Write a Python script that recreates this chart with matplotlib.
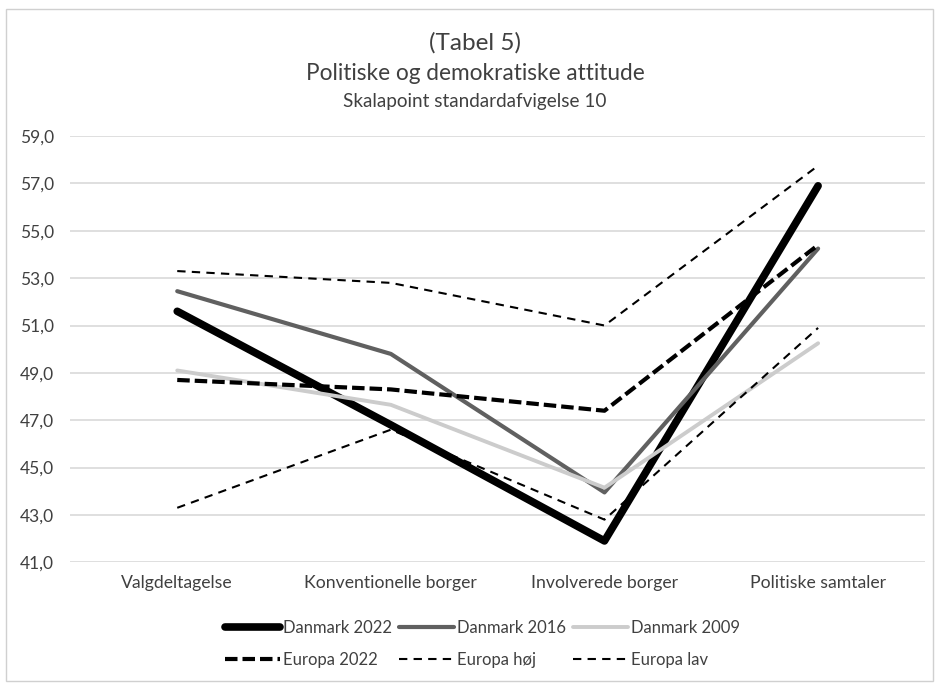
import matplotlib.pyplot as plt
from matplotlib.patches import Rectangle
from matplotlib.ticker import FuncFormatter

plt.rcParams['font.family'] = ['Lato', 'DejaVu Sans']

categories = ['Valgdeltagelse', 'Konventionelle borger', 'Involverede borger', 'Politiske samtaler']
danmark_2022 = [51.6, 46.8, 41.9, 56.9]
danmark_2016 = [52.45, 49.8, 43.95, 54.25]
danmark_2009 = [49.1, 47.65, 44.15, 50.25]
europa_2022 = [48.7, 48.3, 47.4, 54.4]
europa_hoej = [53.3, 52.8, 51.0, 57.75]
europa_lav = [43.3, 46.6, 42.8, 50.9]
y_ticks = [41, 43, 45, 47, 49, 51, 53, 55, 57, 59]

fig = plt.figure(figsize=(9.39, 6.84), dpi=100)
fig.patches.append(Rectangle((0.006, 0.005), 0.988, 0.982, transform=fig.transFigure,
                             fill=False, edgecolor='#d0d0d0', linewidth=1))

ax = fig.add_axes([0.075, 0.178, 0.910, 0.623])
x = range(len(categories))

h1, = ax.plot(x, danmark_2022, color='black', lw=5.5, solid_capstyle='round', label='Danmark 2022')
h2, = ax.plot(x, danmark_2016, color='#606060', lw=3, solid_capstyle='round', label='Danmark 2016')
h3, = ax.plot(x, danmark_2009, color='#cccccc', lw=2.8, solid_capstyle='round', label='Danmark 2009')
h4, = ax.plot(x, europa_2022, color='black', lw=3, ls=(0, (3, 1.2)), label='Europa 2022')
h5, = ax.plot(x, europa_hoej, color='black', lw=1.5, ls=(0, (4, 3)), label='Europa høj')
h6, = ax.plot(x, europa_lav, color='black', lw=1.5, ls=(0, (4, 3)), label='Europa lav')

ax.set_xlim(-0.5, 3.5)
ax.set_ylim(41, 59)
ax.set_yticks(y_ticks)
ax.yaxis.set_major_formatter(FuncFormatter(lambda v, p: f'{v:.1f}'.replace('.', ',')))
ax.set_xticks(list(x))
ax.set_xticklabels(categories)
ax.tick_params(axis='x', length=0, labelsize=12.7, colors='#404040', pad=9)
ax.tick_params(axis='y', length=0, labelsize=12.5, colors='#404040', pad=12)
ax.grid(axis='y', color='#d9d9d9', lw=1.2)
ax.set_axisbelow(True)
for s in ax.spines.values():
    s.set_visible(False)

fig.text(0.506, 0.938, '(Tabel 5)', ha='center', va='center', fontsize=17.5, color='#404040')
fig.text(0.506, 0.893, 'Politiske og demokratiske attitude', ha='center', va='center', fontsize=16.3, color='#404040')
fig.text(0.506, 0.852, 'Skalapoint standardafvigelse 10', ha='center', va='center', fontsize=13.6, color='#404040')

handles = [h1, h4, h2, h5, h3, h6]
leg = fig.legend(handles=handles, labels=[h.get_label() for h in handles], ncol=3,
                 loc='center', bbox_to_anchor=(0.514, 0.059), frameon=False, fontsize=12,
                 handlelength=3.3, handletextpad=0.15, columnspacing=0.45, labelspacing=0.95)
for t in leg.get_texts():
    t.set_color('#404040')

fig.savefig('out.png', dpi=100)
